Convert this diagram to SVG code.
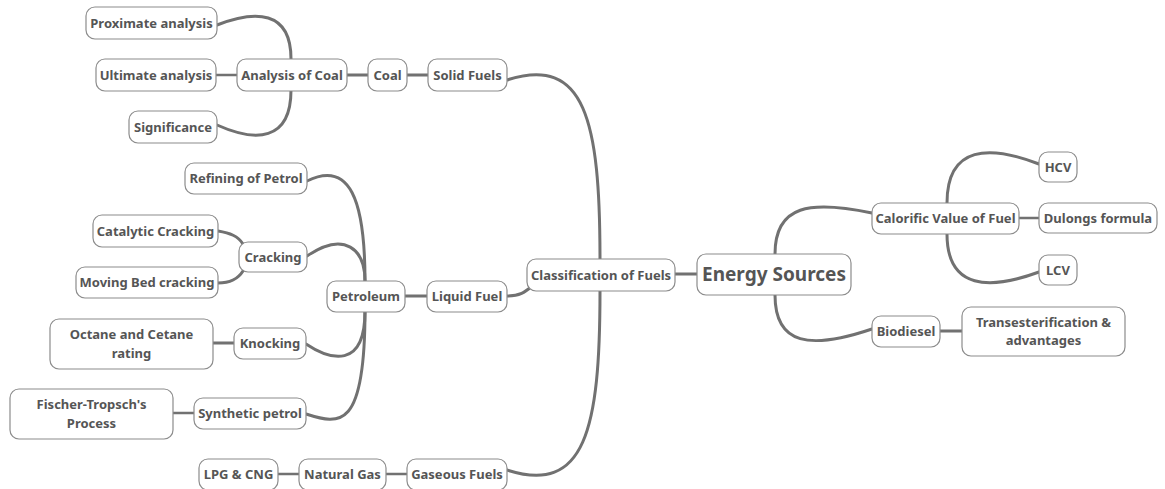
<svg xmlns="http://www.w3.org/2000/svg" width="1165" height="489" viewBox="0 0 1165 489">
  <style>
    .box { fill: #ffffff; stroke: #8c8c8c; stroke-width: 1.2; }
    .lbl { font-family: "Noto Sans", "Open Sans", sans-serif; font-weight: bold; font-size: 13px; fill: #555555; text-anchor: middle; dominant-baseline: central; }
    .root { font-size: 19px; }
    .conn path { fill: none; stroke: #717171; stroke-width: 3; stroke-linecap: round; }
    .conn .thin { stroke-width: 2.4; }
  </style>
  <rect width="1165" height="489" fill="#ffffff"/>

  <!-- connectors -->
  <g class="conn" id="connectors">
    <!-- Energy Sources branches -->
    <path d="M675,274 H697"/>
    <path d="M775,254 C775,205 810,200 872,213"/>
    <path d="M775,295 C775,345 810,350 872,329"/>
    <!-- Calorific value children -->
    <path d="M947,203 C947,145 990,145 1039,164"/>
    <path class="thin" d="M1019,218 H1039"/>
    <path d="M947,234 C947,290 990,290 1039,272"/>
    <path d="M940,331 H962"/>
    <!-- Classification of Fuels branches -->
    <path d="M600,259 C600,120 585,55 507,80"/>
    <path d="M507,296 C520,296 525,292 531,287"/>
    <path d="M600,291 C600,430 585,495 507,470"/>
    <!-- Solid fuels chain -->
    <path d="M428,75 H407"/>
    <path d="M368,75 H347"/>
    <path class="thin" d="M237,75 H216"/>
    <path d="M291,59 C291,10 255,10 217,25"/>
    <path d="M291,90 C291,142 255,142 217,125"/>
    <!-- Liquid fuel chain -->
    <path d="M427,296 H405"/>
    <path d="M365,281 C365,200 350,160 307,181"/>
    <path d="M365,281 C365,250 345,230 307,256"/>
    <path d="M243,244 C238,236 230,233 218,231"/>
    <path d="M243,271 C238,279 230,283 218,283"/>
    <path d="M365,311 C365,370 330,360 306,344"/>
    <path d="M365,311 C365,430 340,425 306,414"/>
    <path d="M234,343 H213"/>
    <path class="thin" d="M194,413 H173"/>
    <!-- Gaseous fuel chain -->
    <path class="thin" d="M407,474 H386"/>
    <path class="thin" d="M299,474 H278"/>
  </g>

  <!-- root -->
  <g id="energy-sources">
    <rect class="box" x="697" y="254" width="154" height="41" rx="9"/>
    <text class="lbl root" x="774" y="274">Energy Sources</text>
  </g>

  <g id="classification">
    <rect class="box" x="527" y="259" width="148" height="32" rx="9"/>
    <text class="lbl" x="601" y="275">Classification of Fuels</text>
  </g>

  <!-- solid fuels -->
  <g id="solid-fuels">
    <rect class="box" x="428" y="59" width="79" height="32" rx="9"/>
    <text class="lbl" x="467.5" y="75">Solid Fuels</text>
  </g>
  <g id="coal">
    <rect class="box" x="368" y="59" width="39" height="32" rx="9"/>
    <text class="lbl" x="387.5" y="75">Coal</text>
  </g>
  <g id="analysis-of-coal">
    <rect class="box" x="237" y="59" width="110" height="32" rx="9"/>
    <text class="lbl" x="292" y="75">Analysis of Coal</text>
  </g>
  <g id="proximate-analysis">
    <rect class="box" x="86" y="7" width="131" height="32" rx="9"/>
    <text class="lbl" x="151.5" y="23">Proximate analysis</text>
  </g>
  <g id="ultimate-analysis">
    <rect class="box" x="96" y="59" width="120" height="32" rx="9"/>
    <text class="lbl" x="156" y="75">Ultimate analysis</text>
  </g>
  <g id="significance">
    <rect class="box" x="129" y="111" width="88" height="32" rx="9"/>
    <text class="lbl" x="173" y="127">Significance</text>
  </g>

  <!-- liquid fuel -->
  <g id="liquid-fuel">
    <rect class="box" x="427" y="281" width="80" height="31" rx="9"/>
    <text class="lbl" x="467" y="296">Liquid Fuel</text>
  </g>
  <g id="petroleum">
    <rect class="box" x="327" y="281" width="78" height="31" rx="9"/>
    <text class="lbl" x="366" y="296">Petroleum</text>
  </g>
  <g id="refining-of-petrol">
    <rect class="box" x="185" y="163" width="122" height="31" rx="9"/>
    <text class="lbl" x="246" y="178">Refining of Petrol</text>
  </g>
  <g id="cracking">
    <rect class="box" x="239" y="242" width="68" height="30" rx="9"/>
    <text class="lbl" x="273" y="257">Cracking</text>
  </g>
  <g id="catalytic-cracking">
    <rect class="box" x="93" y="215" width="125" height="32" rx="9"/>
    <text class="lbl" x="155.5" y="231">Catalytic Cracking</text>
  </g>
  <g id="moving-bed-cracking">
    <rect class="box" x="76" y="267" width="142" height="31" rx="9"/>
    <text class="lbl" x="147" y="282">Moving Bed cracking</text>
  </g>
  <g id="knocking">
    <rect class="box" x="234" y="328" width="72" height="31" rx="9"/>
    <text class="lbl" x="270" y="343">Knocking</text>
  </g>
  <g id="octane-cetane">
    <rect class="box" x="50" y="319" width="163" height="50" rx="9"/>
    <text class="lbl" x="131.5" y="334">Octane and Cetane</text>
    <text class="lbl" x="131.5" y="353">rating</text>
  </g>
  <g id="synthetic-petrol">
    <rect class="box" x="194" y="398" width="112" height="31" rx="9"/>
    <text class="lbl" x="250" y="413">Synthetic petrol</text>
  </g>
  <g id="fischer-tropsch">
    <rect class="box" x="10" y="389" width="163" height="50" rx="9"/>
    <text class="lbl" x="91.5" y="404">Fischer-Tropsch's</text>
    <text class="lbl" x="91.5" y="423">Process</text>
  </g>

  <!-- gaseous fuels -->
  <g id="gaseous-fuels">
    <rect class="box" x="407" y="459" width="100" height="31" rx="9"/>
    <text class="lbl" x="457" y="474">Gaseous Fuels</text>
  </g>
  <g id="natural-gas">
    <rect class="box" x="299" y="459" width="87" height="31" rx="9"/>
    <text class="lbl" x="342.5" y="474">Natural Gas</text>
  </g>
  <g id="lpg-cng">
    <rect class="box" x="199" y="459" width="79" height="31" rx="9"/>
    <text class="lbl" x="238.5" y="474">LPG &amp; CNG</text>
  </g>

  <!-- right side -->
  <g id="calorific-value">
    <rect class="box" x="872" y="203" width="147" height="31" rx="9"/>
    <text class="lbl" x="945.5" y="218">Calorific Value of Fuel</text>
  </g>
  <g id="hcv">
    <rect class="box" x="1039" y="152" width="38" height="30" rx="9"/>
    <text class="lbl" x="1058" y="167">HCV</text>
  </g>
  <g id="dulongs-formula">
    <rect class="box" x="1039" y="203" width="118" height="30" rx="9"/>
    <text class="lbl" x="1098" y="218">Dulongs formula</text>
  </g>
  <g id="lcv">
    <rect class="box" x="1039" y="255" width="38" height="30" rx="9"/>
    <text class="lbl" x="1058" y="270">LCV</text>
  </g>
  <g id="biodiesel">
    <rect class="box" x="872" y="316" width="68" height="31" rx="9"/>
    <text class="lbl" x="906" y="331">Biodiesel</text>
  </g>
  <g id="transesterification">
    <rect class="box" x="962" y="307" width="163" height="49" rx="9"/>
    <text class="lbl" x="1043.5" y="322">Transesterification &amp;</text>
    <text class="lbl" x="1043.5" y="340">advantages</text>
  </g>
</svg>
